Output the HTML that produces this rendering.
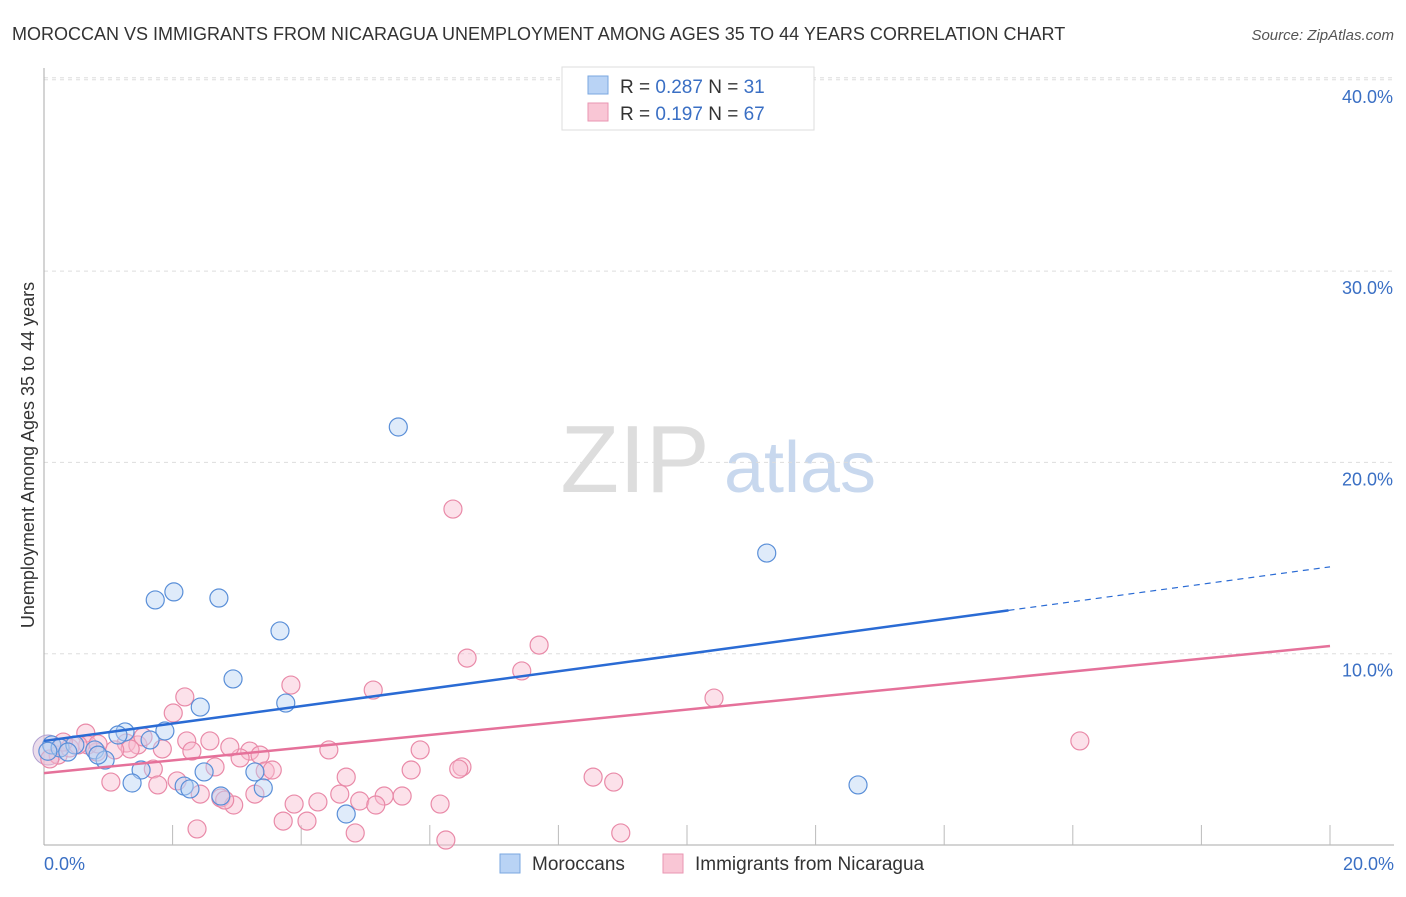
<!DOCTYPE html>
<html><head><meta charset="utf-8"><style>
body{margin:0;background:#fff;font-family:"Liberation Sans",sans-serif;}
svg text{font-family:"Liberation Sans",sans-serif;}
</style></head><body>
<svg id="c" width="1406" height="892">
<text x="12" y="40" font-size="18" fill="#333">MOROCCAN VS IMMIGRANTS FROM NICARAGUA UNEMPLOYMENT AMONG AGES 35 TO 44 YEARS CORRELATION CHART</text>
<text x="1394" y="40" font-size="15" fill="#555" text-anchor="end" font-style="italic">Source: ZipAtlas.com</text>
<text x="635" y="492" font-size="96" fill="#ddd" font-family="Liberation Serif" text-anchor="middle">ZIP</text>
<text x="800" y="492" font-size="72" fill="#c8d8ee" text-anchor="middle">atlas</text>
<text x="34" y="455" font-size="18" fill="#333" text-anchor="middle" transform="rotate(-90 34 455)">Unemployment Among Ages 35 to 44 years</text>
<g id="grid"></g><g id="pts"></g><g id="lines"></g>
<g>
<rect x="562" y="67" width="252" height="63" fill="#fff" stroke="#ddd"/>
<rect x="588" y="76" width="20" height="18" fill="#b9d3f5" stroke="#7aa7e0"/>
<rect x="588" y="103" width="20" height="18" fill="#f9c6d5" stroke="#e996b2"/>
<text x="620" y="93" font-size="19" fill="#333">R = <tspan fill="#3a6fc4">0.287</tspan>   N = <tspan fill="#3a6fc4">31</tspan></text>
<text x="620" y="120" font-size="19" fill="#333">R = <tspan fill="#3a6fc4"> 0.197</tspan>   N = <tspan fill="#3a6fc4">67</tspan></text>
</g>
<g>
<rect x="500" y="854" width="20" height="19" fill="#b9d3f5" stroke="#7aa7e0"/>
<text x="532" y="870" font-size="19" fill="#333">Moroccans</text>
<rect x="663" y="854" width="20" height="19" fill="#f9c6d5" stroke="#e996b2"/>
<text x="695" y="870" font-size="19" fill="#333">Immigrants from Nicaragua</text>
</g>
</svg>
<script>
const yTicks=[10,20,30,40];
const yTickLabels=["10.0%","20.0%","30.0%","40.0%"];
const xTickLabels=["0.0%","20.0%"];
const blueX=[5.51,11.24,2.02,1.73,2.72,3.67,2.94,2.43,3.76,1.88,1.26,1.15,1.65,0.12,0.25,0.48,0.79,0.37,0.95,0.84,1.51,1.37,2.18,2.27,2.49,3.28,3.41,2.75,4.70,12.66,0.06];
const blueY=[21.85,15.26,13.23,12.81,12.91,11.19,8.68,7.21,7.42,5.96,5.91,5.75,5.49,5.23,5.07,5.23,4.97,4.86,4.44,4.70,3.92,3.24,3.08,2.93,3.82,3.82,2.98,2.56,1.62,3.14,4.9];
const pinkX=[8.24,6.36,7.70,6.58,7.43,3.84,5.12,10.42,2.19,2.01,16.11,0.65,1.28,1.46,2.22,2.58,1.54,1.84,3.20,3.36,4.43,5.85,3.05,1.70,2.66,3.44,3.55,5.71,6.50,6.45,4.70,8.54,8.86,1.04,1.77,2.07,2.43,2.75,2.95,2.81,3.28,5.57,5.29,3.89,4.26,4.91,5.16,4.60,6.16,3.72,4.09,4.84,2.38,6.25,8.97,0.22,0.40,0.82,0.68,0.09,1.34,1.10,2.30,0.84,0.53,0.30,2.89];
const pinkY=[39.10,17.56,10.45,9.77,9.10,8.36,8.10,7.68,7.74,6.90,5.44,5.85,5.33,5.23,5.44,5.44,5.65,5.02,4.91,4.70,4.97,4.97,4.55,3.97,4.08,3.87,3.92,3.92,4.08,3.97,3.55,3.55,3.29,3.29,3.14,3.35,2.66,2.46,2.09,2.35,2.66,2.56,2.56,2.14,2.25,2.30,2.09,2.66,2.14,1.25,1.25,0.63,0.84,0.26,0.63,4.70,5.07,4.86,5.23,4.50,5.02,4.97,4.91,5.28,5.23,5.38,5.12];
const blueTrend=[5.44,0.455]; // intercept, slope
const pinkTrend=[3.76,0.332];
const NS="http://www.w3.org/2000/svg";
const X=v=>44+v*64.3, Y=v=>845-v*19.13;
function mk(t,a,p){const e=document.createElementNS(NS,t);for(const k in a)e.setAttribute(k,a[k]);p.appendChild(e);return e;}
const g=document.getElementById('grid');
yTicks.forEach((t,i)=>{
 const l=mk('line',{x1:44,x2:1394,y1:Y(t),y2:Y(t),stroke:'#ddd','stroke-dasharray':'4,4'},g);
 
 
 const tx=mk('text',{x:1393,y:Y(t)+23,'font-size':18,fill:'#3a6fc4','text-anchor':'end'},g);
 tx.textContent=yTickLabels[i];
 
 
});
mk('line',{x1:44,x2:1394,y1:Y(40)-2,y2:Y(40)-2,stroke:'#ddd','stroke-dasharray':'4,4'},g);
mk('line',{x1:44,x2:44,y1:68,y2:845,stroke:'#aaa'},g);
mk('line',{x1:44,x2:1394,y1:845,y2:845,stroke:'#aaa'},g);
for(let v=2;v<=20;v+=2){
 const l=mk('line',{x1:X(v),x2:X(v),y1:825,y2:845,stroke:'#bbb'},g);
 
 
}
[[0,'start',44],[1,'end',1394]].forEach(([i,a,x])=>{
 const t=mk('text',{x:x,y:870,'font-size':18,fill:'#3a6fc4','text-anchor':a},g);
 t.textContent=xTickLabels[i];
 
 
});
const p=document.getElementById('pts');
function dots(xs,ys,fill,stroke,name){
 xs.forEach((x,i)=>{
  const c=mk('circle',{cx:X(x),cy:Y(ys[i]),r:9,fill:fill,'fill-opacity':0.45,stroke:stroke,'stroke-width':1.2},p);
  
  
 });
}
mk('circle',{cx:48,cy:750,r:15,fill:'#d8b9d8','fill-opacity':0.5,stroke:'#b0a0d0'},p);
dots(pinkX,pinkY,'#f9bcd0','#e98aa8','nicaragua-point');
dots(blueX,blueY,'#b9d3f5','#5a8fd8','moroccan-point');
const L=document.getElementById('lines');
let l=mk('line',{x1:X(0),y1:Y(blueTrend[0]),x2:X(15),y2:Y(blueTrend[0]+15*blueTrend[1]),stroke:'#2a6bd4','stroke-width':2.5},L);


l=mk('line',{x1:X(15),y1:Y(blueTrend[0]+15*blueTrend[1]),x2:X(20),y2:Y(blueTrend[0]+20*blueTrend[1]),stroke:'#2a6bd4','stroke-width':1.2,'stroke-dasharray':'6,5'},L);


l=mk('line',{x1:X(0),y1:Y(pinkTrend[0]),x2:X(20),y2:Y(pinkTrend[0]+20*pinkTrend[1]),stroke:'#e5719a','stroke-width':2.5},L);


</script>
</body></html>
